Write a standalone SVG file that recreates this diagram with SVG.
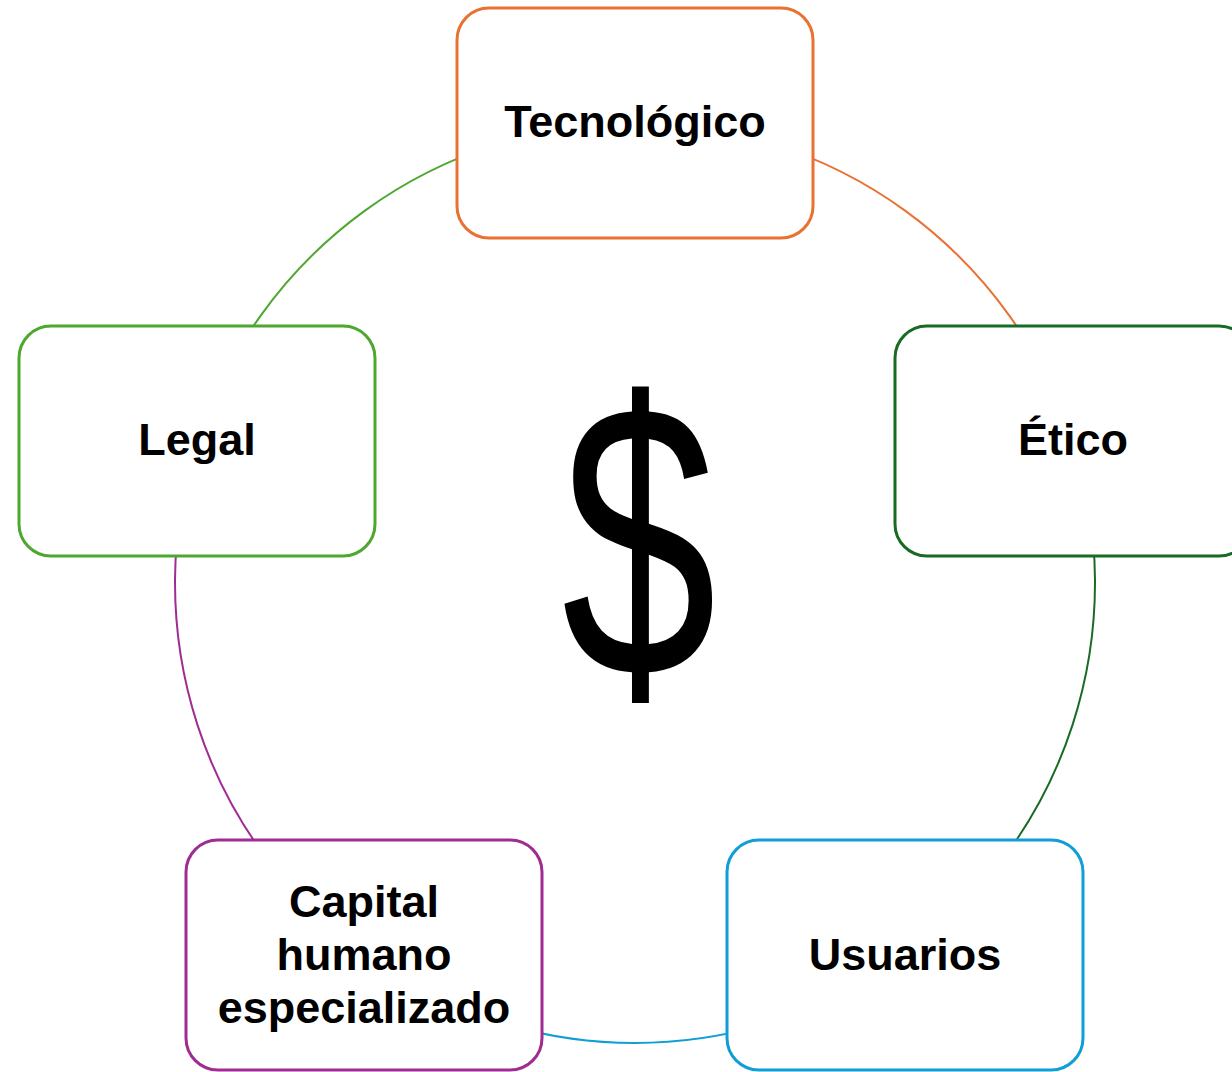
<svg xmlns="http://www.w3.org/2000/svg" width="1232" height="1072" viewBox="0 0 1232 1072">
<style>
.box{fill:#ffffff;stroke-width:3}
.arc{fill:none;stroke-width:2}
.lbl{font-family:"Liberation Sans",Arial,sans-serif;font-weight:bold;font-size:45px;fill:#000;text-anchor:middle}
.dollar{font-family:"Liberation Sans",Arial,sans-serif;font-size:340px;fill:#000;text-anchor:middle}
</style>
<rect width="1232" height="1072" fill="#ffffff"/>
<g id="connectors">
<path class="arc" stroke="#E97132" d="M635,123 A460,460 0 0 1 1072.5,440.9"/>
<path class="arc" stroke="#196B24" d="M1072.5,440.9 A460,460 0 0 1 905.4,955.1"/>
<path class="arc" stroke="#0F9ED5" d="M905.4,955.1 A460,460 0 0 1 364.6,955.1"/>
<path class="arc" stroke="#A02B93" d="M364.6,955.1 A460,460 0 0 1 197.5,440.9"/>
<path class="arc" stroke="#4EA72E" d="M197.5,440.9 A460,460 0 0 1 635,123"/>
</g>
<g id="center">
<text class="dollar" transform="translate(639,676) scale(0.82,1.15)" x="0" y="0">$</text>
</g>
<g id="tecnologico">
<rect class="box" stroke="#E97132" x="457" y="8" width="356" height="230" rx="32"/>
<text class="lbl" x="635" y="137">Tecnológico</text>
</g>
<g id="etico">
<rect class="box" stroke="#196B24" x="895" y="326" width="356" height="230" rx="32"/>
<text class="lbl" x="1073" y="455">Ético</text>
</g>
<g id="usuarios">
<rect class="box" stroke="#0F9ED5" x="727" y="840" width="356" height="230" rx="32"/>
<text class="lbl" x="905" y="970">Usuarios</text>
</g>
<g id="capital">
<rect class="box" stroke="#A02B93" x="186" y="840" width="356" height="230" rx="32"/>
<text class="lbl" x="364" y="917">Capital</text>
<text class="lbl" x="364" y="970">humano</text>
<text class="lbl" x="364" y="1023">especializado</text>
</g>
<g id="legal">
<rect class="box" stroke="#4EA72E" x="19" y="326" width="356" height="230" rx="32"/>
<text class="lbl" x="197" y="455">Legal</text>
</g>
</svg>
